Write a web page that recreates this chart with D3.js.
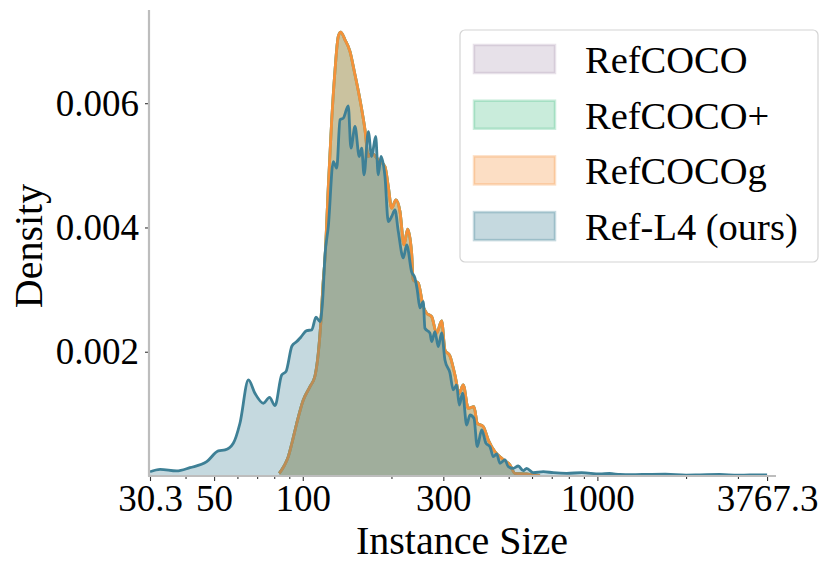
<!DOCTYPE html>
<html>
<head>
<meta charset="utf-8">
<script src="https://cdn.jsdelivr.net/npm/d3@7"></script>
<style>
  body { margin: 0; background: #fff; }
  svg text { font-family: "Liberation Serif", "Times New Roman", serif; fill: #000; }
</style>
</head>
<body>
<svg id="chart"></svg>
<script>
// instance size (x) and KDE density (y)
const refL4Size = [30.3, 32.8, 37.3, 41.4, 47.2, 51.7, 54.5, 58.1, 61.2, 65.4, 68.8, 73.5, 77.1, 80.5, 84.8, 87.7,
  91.9, 95.4, 98.6, 103.1, 107.2, 110.9, 114.4, 116.8, 119.0, 122.1, 126.9, 130.4, 133.8, 137.3, 142.7, 145.7,
  150.4, 155.5, 158.5, 161.4, 166.9, 171.3, 176.8, 180.4, 184.2, 190.1, 195.1, 200.3, 205.6, 211.0, 219.4, 225.3,
  234.2, 240.3, 244.7, 249.9, 256.4, 259.8, 270.2, 273.8, 281.0, 288.3, 296.1, 303.8, 315.9, 324.2, 332.9, 339.7,
  348.9, 360.0, 369.4, 381.1, 391.1, 404.8, 418.7, 432.0, 443.3, 455.2, 467.1, 485.7, 498.4, 518.3, 538.9, 560.3,
  575.4, 605.8, 655.1, 708.5, 786.5, 884.5, 1020, 1100, 1193, 1300, 1508, 1700, 2000, 2229, 2600, 3000, 3295, 3767.3];
const refL4Density = [0.000069, 0.000108, 0.000081, 0.000134, 0.000230, 0.000403, 0.000419, 0.000527, 0.000849,
  0.001546, 0.001332, 0.001171, 0.001267, 0.001132, 0.001626, 0.001680, 0.002093, 0.002163, 0.002238, 0.002340,
  0.002351, 0.002556, 0.002485, 0.002834, 0.003560, 0.004014, 0.005061, 0.004955, 0.005733, 0.005760, 0.005958,
  0.005277, 0.005625, 0.005142, 0.005277, 0.004847, 0.005544, 0.005142, 0.005464, 0.004847, 0.005142, 0.004820,
  0.004095, 0.004176, 0.004283, 0.003934, 0.003510, 0.003720, 0.003285, 0.003184, 0.002995, 0.002705, 0.002807,
  0.002378, 0.002298, 0.002163, 0.002324, 0.002082, 0.002303, 0.001868, 0.001659, 0.001385, 0.001465, 0.001143,
  0.001332, 0.000821, 0.000982, 0.000929, 0.000472, 0.000741, 0.000527, 0.000472, 0.000311, 0.000354, 0.000205,
  0.000258, 0.000150, 0.000124, 0.000161, 0.000085, 0.000124, 0.000053, 0.000069, 0.000053, 0.000043, 0.000053,
  0.000032, 0.000040, 0.000024, 0.000020, 0.000027, 0.000030, 0.000015, 0.000019, 0.000025, 0.000012, 0.000019, 0.000016];

// RefCOCO, RefCOCO+ and RefCOCOg share the same COCO boxes: their curves coincide
const cocoSize = [83.2, 86.4, 89.3, 91.9, 95.4, 100.4, 105.8, 110.0, 112.9, 115.3, 117.1, 119.0, 122.1, 125.4, 128.7,
  132.0, 134.5, 139.1, 144.6, 149.6, 156.4, 162.6, 166.9, 171.3, 180.4, 190.1, 195.1, 200.3, 207.2, 213.8, 220.6,
  227.0, 234.2, 237.1, 246.6, 256.4, 263.3, 273.8, 284.7, 296.1, 303.8, 315.9, 328.5, 339.7, 350.5, 364.5, 381.1,
  391.1, 409.9, 426.3, 449.2, 473.3, 505.1, 525.2, 575.4, 605.8, 638.8];
const cocoDensity = [0.000043, 0.000161, 0.000311, 0.000531, 0.000849, 0.001224, 0.001438, 0.001610, 0.001976,
  0.002512, 0.003076, 0.003510, 0.004659, 0.005733, 0.006538, 0.007074, 0.007145, 0.007021, 0.006833, 0.006510,
  0.006055, 0.005572, 0.005142, 0.005196, 0.005089, 0.004981, 0.004659, 0.004311, 0.004444, 0.004256, 0.003720,
  0.003973, 0.003586, 0.003156, 0.003103, 0.002726, 0.002620, 0.002565, 0.002298, 0.002496, 0.002029, 0.001932,
  0.001626, 0.001332, 0.001465, 0.001090, 0.001116, 0.000849, 0.000794, 0.000580, 0.000391, 0.000285, 0.000177,
  0.000043, 0.000032, 0.000016, 0.000008];

const seriesNames = ['RefCOCO', 'RefCOCO+', 'RefCOCOg', 'Ref-L4 (ours)'];
const seriesColors = ['#af9bb6', '#4bc087', '#f4913a', '#3e8096'];
const xMajorTicks = [30.3, 50, 100, 300, 1000, 3767.3];
const xMinorTicks = [40, 60, 70, 80, 90, 200, 400, 500, 600, 700, 800, 900, 2000, 3000];
const yTicks = [0.002, 0.004, 0.006];

const W = 831, H = 573;
const svg = d3.select('#chart').attr('width', W).attr('height', H);

const x = d3.scaleLog().domain([30.3, 4008]).range([150, 775]);
const y = d3.scaleLinear().domain([0, 0.0075]).range([476, 10]);

const toPoints = (xs, ys) => xs.map((v, i) => [v, ys[i]]);
const series = [
  toPoints(cocoSize, cocoDensity),
  toPoints(cocoSize, cocoDensity),
  toPoints(cocoSize, cocoDensity),
  toPoints(refL4Size, refL4Density)
];

const area = d3.area()
  .x(d => x(d[0]))
  .y0(y(0))
  .y1(d => y(d[1]))
  .curve(d3.curveMonotoneX);
const line = d3.line()
  .x(d => x(d[0]))
  .y(d => y(d[1]))
  .curve(d3.curveMonotoneX);

const plot = svg.append('g');
series.forEach((pts, i) => {
  plot.append('path')
    .attr('d', area(pts))
    .attr('fill', seriesColors[i])
    .attr('fill-opacity', 0.3);
  plot.append('path')
    .attr('d', line(pts))
    .attr('fill', 'none')
    .attr('stroke', seriesColors[i])
    .attr('stroke-width', 2.8)
    .attr('stroke-linejoin', 'round');
});

// x axis (major + minor ticks)
const xAxisG = svg.append('g').attr('transform', `translate(0,${y(0)})`);
xAxisG.call(d3.axisBottom(x).tickValues(xMajorTicks).tickSize(5).tickPadding(4).tickFormat(d => String(d)));
const xMinorG = svg.append('g').attr('transform', `translate(0,${y(0)})`);
xMinorG.call(d3.axisBottom(x).tickValues(xMinorTicks).tickSize(3).tickFormat(''));

const yAxisG = svg.append('g').attr('transform', 'translate(149,0)');
yAxisG.call(d3.axisLeft(y).tickValues(yTicks).tickSize(4).tickPadding(6).tickFormat(d3.format('.3f')));

[xAxisG, xMinorG, yAxisG].forEach(g => {
  g.select('.domain').remove();
  g.selectAll('.tick line').attr('stroke', '#333').attr('stroke-width', 1.1);
  g.selectAll('.tick text').style('font-size', '37px').style('font-family', '"Liberation Serif", serif');
});

// spines
svg.append('line').attr('x1', 149).attr('x2', 149).attr('y1', 10).attr('y2', 476.5)
  .attr('stroke', '#bdbdbd').attr('stroke-width', 2.2);
svg.append('line').attr('x1', 148).attr('x2', 776).attr('y1', 476).attr('y2', 476)
  .attr('stroke', '#bdbdbd').attr('stroke-width', 2.2);

// axis labels
svg.append('text')
  .attr('x', 462).attr('y', 554)
  .attr('text-anchor', 'middle')
  .style('font-size', '40px')
  .text('Instance Size');
svg.append('text')
  .attr('transform', 'translate(42,246) rotate(-90)')
  .attr('text-anchor', 'middle')
  .style('font-size', '40px')
  .text('Density');

// legend
const legend = svg.append('g');
legend.append('rect')
  .attr('x', 460).attr('y', 30).attr('width', 358).attr('height', 232)
  .attr('rx', 5)
  .attr('fill', '#fff').attr('fill-opacity', 0.8)
  .attr('stroke', '#d4d4d4').attr('stroke-width', 1.2);
seriesNames.forEach((name, i) => {
  const cy = 59 + i * 55.7;
  legend.append('rect')
    .attr('x', 474).attr('y', cy - 14).attr('width', 81).attr('height', 28)
    .attr('fill', seriesColors[i]).attr('fill-opacity', 0.3)
    .attr('stroke', seriesColors[i]).attr('stroke-opacity', 0.3).attr('stroke-width', 2.5);
  legend.append('text')
    .attr('x', 585).attr('y', cy + 14)
    .style('font-size', '38.5px')
    .text(name);
});
</script>
</body>
</html>
